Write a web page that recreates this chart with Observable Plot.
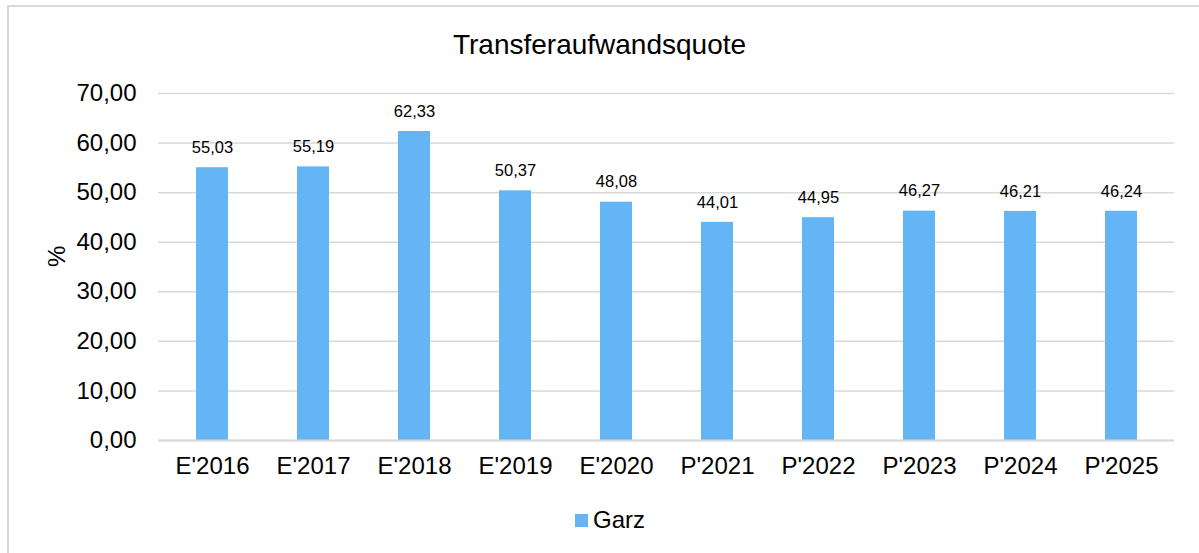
<!DOCTYPE html>
<html>
<head>
<meta charset="utf-8">
<script src="https://cdn.jsdelivr.net/npm/d3@7"></script>
<script src="https://cdn.jsdelivr.net/npm/@observablehq/plot@0.6"></script>
<style>
  html, body { margin: 0; padding: 0; background: #fff; }
  #wrap { position: relative; width: 1199px; height: 553px; overflow: hidden; font-family: "Liberation Sans", Arial, sans-serif; }
  #frame { position: absolute; left: 7px; top: 5px; width: 1200px; height: 560px; border: 2px solid #d9d9d9; box-sizing: border-box; }
  #title { position: absolute; left: 0; width: 1199px; top: 28px; text-align: center; font-size: 28px; line-height: 34px; color: #000; }
  #legend { position: absolute; left: 575px; top: 506px; font-size: 24px; line-height: 28px; color: #000; display: flex; align-items: center; }
  #legend span.sw { display: inline-block; width: 13px; height: 13px; background: #64b5f6; margin-right: 5px; }
  #chart { position: absolute; left: 0; top: 0; }
</style>
</head>
<body>
<div id="wrap">
  <div id="frame"></div>
  <div id="chart"></div>
  <div id="title">Transferaufwandsquote</div>
  <div id="legend"><span class="sw"></span><span>Garz</span></div>
</div>
<script>
const categories = ["E'2016","E'2017","E'2018","E'2019","E'2020","P'2021","P'2022","P'2023","P'2024","P'2025"];
const values = [55.03, 55.19, 62.33, 50.37, 48.08, 44.01, 44.95, 46.27, 46.21, 46.24];
const yTicks = [0, 10, 20, 30, 40, 50, 60, 70];
const seriesName = "Garz";

const data = categories.map((c, i) => ({category: c, value: values[i], series: seriesName}));
const fmt = v => v.toFixed(2).replace(".", ",");

const chart = Plot.plot({
  width: 1199,
  height: 553,
  marginLeft: 158,
  marginRight: 25,
  marginTop: 93,
  marginBottom: 113,
  style: {fontFamily: "'Liberation Sans', Arial, sans-serif", background: "transparent"},
  x: {domain: categories, paddingInner: 0.685, paddingOuter: 0.3425, label: null},
  y: {domain: [0, 70], label: null},
  marks: [
    Plot.gridY(yTicks, {stroke: "#d9d9d9", strokeOpacity: 1, strokeWidth: 1.5}),
    Plot.axisY(yTicks, {tickSize: 0, tickPadding: 22, tickFormat: fmt, fontSize: 24, fill: "#000", label: null}),
    Plot.axisX({tickSize: 0, tickPadding: 16, fontSize: 24, fill: "#000", label: null}),
    Plot.barY(data, {x: "category", y: "value", fill: "#64b5f6"}),
    Plot.ruleY([0], {stroke: "#d9d9d9", strokeWidth: 2}),
    Plot.text(data, {x: "category", y: "value", text: d => fmt(d.value), dy: -20, fontSize: 16.5, fill: "#000"}),
    Plot.text(["%"], {frameAnchor: "left", dx: -101, rotate: -90, fontSize: 24, fill: "#000"})
  ]
});
document.getElementById("chart").appendChild(chart);
</script>
</body>
</html>
